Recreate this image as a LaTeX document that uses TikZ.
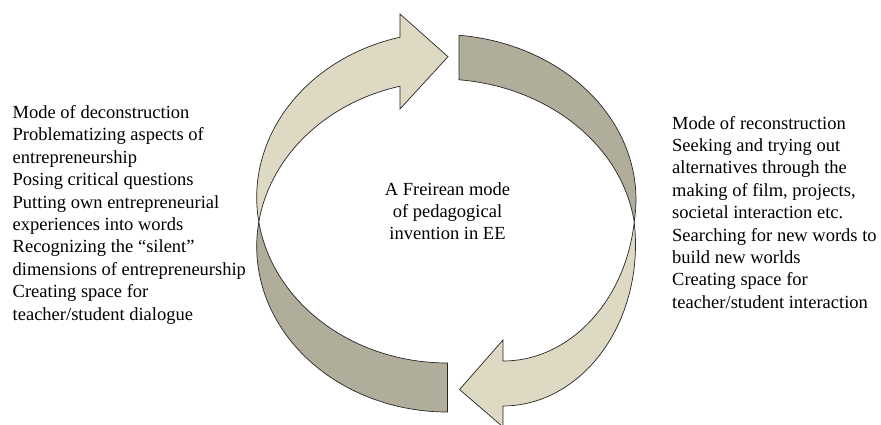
\documentclass[tikz,border=0pt]{standalone}
\usepackage{fontspec}
\setmainfont{Liberation Serif}
\definecolor{lightarr}{HTML}{DDD9C3}
\definecolor{darkarr}{HTML}{B0AD9B}
\begin{document}
\begin{tikzpicture}[x=1pt,y=1pt,
  piece/.style={draw=black!85, line width=0.7pt, line join=miter},
  lightpiece/.style={piece, fill=lightarr},
  darkpiece/.style={piece, fill=darkarr},
  txt/.style={inner sep=0pt, font=\fontsize{18.5}{22.4}\selectfont}]
\useasboundingbox (0,0) rectangle (881,424);
\clip (0,0) rectangle (881,424);
% centres of the elliptical arcs
\coordinate (E1) at (447.5,177.5);
\coordinate (E2) at (447.5,226.5);
\coordinate (D1) at (440,224.5);
\coordinate (D2) at (440,180);
\coordinate (O) at (503,179);
\coordinate (I) at (503,224);
% arrow head points
\coordinate (lhlow) at (400,315);
\coordinate (lhtip) at (448,367.3);
\coordinate (lhup) at (400,410);
\coordinate (rhlow) at (503,-3);
\coordinate (rhtip) at (459.5,34.5);
\coordinate (rhup) at (503,84);
% left: dark back part (bottom)
\draw[darkpiece] ([shift={(188.513:190.8 and 165.5)}]E2)
  arc[start angle=188.513, end angle=270, x radius=190.8, y radius=165.5]
  -- ([shift={(270:190.8 and 165.5)}]E1)
  arc[start angle=270, end angle=171.487, x radius=190.8, y radius=165.5] -- cycle;
% left: light front part with head (top)
\draw[lightpiece] ([shift={(104.42:190.8 and 165.5)}]E1) -- (lhlow) -- (lhtip) -- (lhup)
  -- ([shift={(104.42:190.8 and 165.5)}]E2)
  arc[start angle=104.42, end angle=188.513, x radius=190.8, y radius=165.5]
  arc[start angle=171.487, end angle=104.42, x radius=190.8, y radius=165.5] -- cycle;
% right: dark back part (top)
\draw[darkpiece] ([shift={(84.437:196 and 165)}]D1)
  arc[start angle=84.437, end angle=-7.75, x radius=196, y radius=165]
  arc[start angle=7.75, end angle=84.437, x radius=196, y radius=165] -- cycle;
% right: light front part with head (bottom)
\draw[lightpiece] ([shift={(-90:132.5 and 161)}]I)
  arc[start angle=-90, end angle=-8.033, x radius=132.5, y radius=161]
  arc[start angle=8.033, end angle=-90, x radius=132.5, y radius=161]
  -- (rhlow) -- (rhtip) -- (rhup) -- cycle;
% texts
\node[txt, anchor=north west, align=left] (decon) at (12.5,321.4)
  {\strut Mode of deconstruction\\Problematizing aspects of\\entrepreneurship\\Posing critical questions\\Putting own entrepreneurial\\experiences into words\\Recognizing the “silent”\\dimensions of entrepreneurship\\Creating space for\\teacher/student dialogue};
\node[txt, anchor=north west, align=left] (recon) at (672,310.7)
  {\strut Mode of reconstruction\\Seeking and trying out\\alternatives through the\\making of film, projects,\\societal interaction etc.\\Searching for new words to\\build new worlds\\Creating space for\\teacher/student interaction};
\node[txt, anchor=north, align=center] (centre) at (447.5,244.7)
  {\strut A Freirean mode\\of pedagogical\\invention in EE};
\end{tikzpicture}
\end{document}
